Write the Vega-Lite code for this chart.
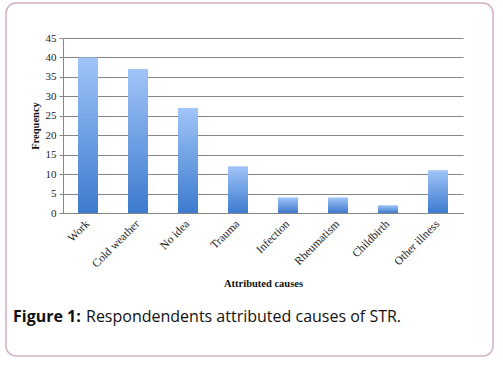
{
  "$schema": "https://vega.github.io/schema/vega-lite/v6.json",
  "width": 400,
  "height": 175,
  "autosize": "none",
  "padding": {"left": 63, "top": 38, "right": 40, "bottom": 154},
  "background": "white",
  "config": {"view": {"stroke": null}},
  "layer": [
    {
      "data": {"values": [{"part": "frame"}]},
      "mark": {"type": "rect", "fill": null, "stroke": "#d3afc6", "strokeWidth": 1.5, "cornerRadius": 10},
      "encoding": {
        "x": {"value": -57},
        "x2": {"value": 430},
        "y": {"value": -35},
        "y2": {"value": 318}
      }
    },
    {
      "data": {"values": [
        {"cause": "Work", "frequency": 40},
        {"cause": "Cold weather", "frequency": 37},
        {"cause": "No idea", "frequency": 27},
        {"cause": "Trauma", "frequency": 12},
        {"cause": "Infection", "frequency": 4},
        {"cause": "Rheumatism", "frequency": 4},
        {"cause": "Childbirth", "frequency": 2},
        {"cause": "Other illness", "frequency": 11}
      ]},
      "mark": {
        "type": "bar",
        "color": {
          "gradient": "linear", "x1": 0, "y1": 0, "x2": 0, "y2": 1,
          "stops": [{"offset": 0, "color": "#a0c5f8"}, {"offset": 1, "color": "#3d7ace"}]
        }
      },
      "encoding": {
        "x": {
          "field": "cause", "type": "nominal", "sort": null,
          "scale": {"paddingInner": 0.6, "paddingOuter": 0.3},
          "axis": {
            "title": "Attributed causes",
            "titleFont": "Liberation Serif", "titleFontSize": 10.5, "titleFontWeight": "bold", "titleColor": "#111",
            "titleY": 70, "titleBaseline": "middle",
            "labelAngle": -45, "labelAlign": "right", "labelBaseline": "middle",
            "labelFont": "Liberation Serif", "labelFontSize": 11.5, "labelColor": "#222", "labelPadding": 9,
            "ticks": false, "domainColor": "#868686", "domainWidth": 1.2
          }
        },
        "y": {
          "field": "frequency", "type": "quantitative",
          "scale": {"domain": [0, 45], "nice": false},
          "axis": {
            "title": "Frequency", "values": [0, 5, 10, 15, 20, 25, 30, 35, 40, 45],
            "titleFont": "Liberation Serif", "titleFontSize": 10.5, "titleFontWeight": "bold", "titleColor": "#111",
            "titleX": -28, "titleY": 87.5, "titleBaseline": "middle",
            "labelFont": "Liberation Serif", "labelFontSize": 11, "labelColor": "#222", "labelPadding": 3,
            "tickSize": 4, "tickColor": "#868686", "domainColor": "#868686",
            "gridColor": "#868686", "gridWidth": 1.2
          }
        }
      }
    },
    {
      "data": {"values": [
        {"part": "Figure 1:"}
      ]},
      "mark": {"type": "text", "font": "Open Sans", "fontSize": 16, "fontWeight": "bold", "align": "left", "baseline": "alphabetic", "color": "#111"},
      "encoding": {"text": {"field": "part"}, "x": {"value": -50}, "y": {"value": 284}}
    },
    {
      "data": {"values": [
        {"part": "Respondendents attributed causes of STR."}
      ]},
      "mark": {"type": "text", "font": "Open Sans", "fontSize": 16, "align": "left", "baseline": "alphabetic", "color": "#111"},
      "encoding": {"text": {"field": "part"}, "x": {"value": 23}, "y": {"value": 284}}
    }
  ]
}
